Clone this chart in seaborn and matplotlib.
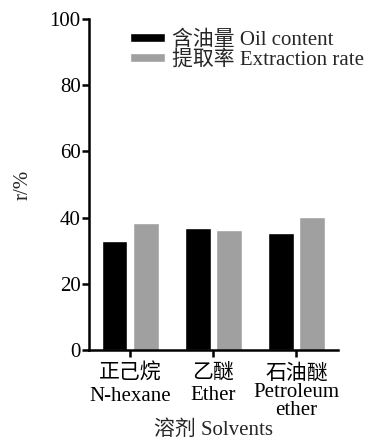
import matplotlib
matplotlib.use("Agg")
import matplotlib.pyplot as plt
import seaborn as sns
import pandas as pd

categories = ["正己烷\nN-hexane", "乙醚\nEther", "石油醚\nPetroleum\nether"]
series_names = ["含油量 Oil content", "提取率 Extraction rate"]
oil_content = [32.8, 37.0, 35.2]
extraction_rate = [38.5, 36.3, 40.1]
yticks = [0, 20, 40, 60, 80, 100]

sns.set_theme(style="ticks")
plt.rcParams['font.family'] = ['Liberation Serif', 'Noto Sans CJK SC']
FS = 15

df = pd.DataFrame({
    "cat": categories * 2,
    "series": [series_names[0]] * 3 + [series_names[1]] * 3,
    "value": oil_content + extraction_rate,
})

fig = plt.figure(figsize=(3.69, 4.43), dpi=100)
ax = fig.add_axes([0.241, 0.21, 0.675, 0.747])
sns.barplot(data=df, x="cat", y="value", hue="series", order=categories,
            hue_order=series_names, palette=["#000000", "#a0a0a0"],
            width=0.75, gap=0.19, saturation=1, ax=ax, errorbar=None)
ax.set_xlim(-0.5, 2.5)
ax.set_ylim(0, 100)
ax.set_yticks(yticks)
ax.set_yticklabels([str(v) for v in yticks], fontsize=FS)
ax.set_xticks(range(3))
ax.set_xticklabels(categories, fontsize=FS)
for i, t in enumerate(ax.get_xticklabels()):
    t.set_linespacing(1.22 if i < 2 else 0.95)
for sp in ["top", "right"]:
    ax.spines[sp].set_visible(False)
for sp in ["left", "bottom"]:
    ax.spines[sp].set_linewidth(1.8)
    ax.spines[sp].set_color("black")
ax.tick_params(axis="both", direction="out", length=5, width=1.8, colors="black", pad=1)
ax.tick_params(axis="x", pad=5)
ax.set_ylabel("r/%", fontsize=FS, labelpad=12)
ax.set_xlabel("溶剂 Solvents", fontsize=FS, labelpad=0)
leg = ax.legend(loc="upper left", bbox_to_anchor=(0.165, 0.965), frameon=False,
                handlelength=1.68, handleheight=0.34, handletextpad=0.34,
                labelspacing=0.0, fontsize=FS, borderaxespad=0, borderpad=0)
fig.savefig("out.png", dpi=100)
